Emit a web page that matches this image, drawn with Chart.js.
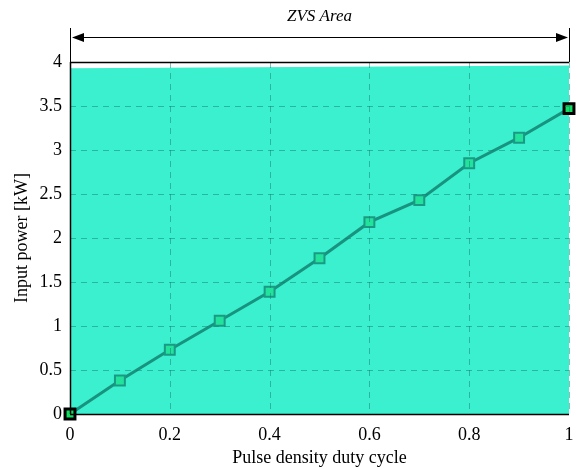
<!DOCTYPE html>
<html>
<head>
<meta charset="utf-8">
<script src="https://cdn.jsdelivr.net/npm/chart.js@4/dist/chart.umd.min.js"></script>
<style>
  html, body { margin: 0; padding: 0; background: #fff; }
  #wrap { width: 579px; height: 469px; }
</style>
</head>
<body>
<div id="wrap"><canvas id="powerChart" width="579" height="469"></canvas></div>
<script>
// duty cycle vs measured input power
const dutyCycle = [0, 0.1, 0.2, 0.3, 0.4, 0.5, 0.6, 0.7, 0.8, 0.9, 1.0];
const inputPower = [0, 0.38, 0.73, 1.06, 1.39, 1.77, 2.18, 2.43, 2.85, 3.14, 3.47];
// upper edge of the shaded ZVS region
const zvsDuty = [0, 1];
const zvsPower = [3.93, 3.96];
const zvsLabel = 'ZVS Area';

const serif = '"Liberation Serif", "Times New Roman", serif';

// dashed grid drawn over the shaded region
const overGrid = {
    id: 'overGrid',
    afterDatasetsDraw(chart) {
        const ctx = chart.ctx;
        const a = chart.chartArea;
        ctx.save();
        ctx.strokeStyle = 'rgba(20, 125, 110, 0.5)';
        ctx.lineWidth = 1;
        ctx.setLineDash([6, 5]);
        chart.scales.x.ticks.forEach(t => {
            const px = Math.round(chart.scales.x.getPixelForValue(t.value)) + 0.5;
            ctx.beginPath(); ctx.moveTo(px, a.top); ctx.lineTo(px, a.bottom); ctx.stroke();
        });
        chart.scales.y.ticks.forEach(t => {
            const py = Math.round(chart.scales.y.getPixelForValue(t.value)) + 0.5;
            ctx.beginPath(); ctx.moveTo(a.left, py); ctx.lineTo(a.right, py); ctx.stroke();
        });
        ctx.restore();
    }
};

// arrow spanning the ZVS region above the plot, plus the plot box
const zvsArrow = {
    id: 'zvsArrow',
    afterDraw(chart) {
        const ctx = chart.ctx;
        const xs = chart.scales.x;
        const x0 = xs.getPixelForValue(zvsDuty[0]);
        const x1 = xs.getPixelForValue(zvsDuty[1]);
        const a = chart.chartArea;
        const ya = 37;
        ctx.save();
        ctx.strokeStyle = '#000';
        ctx.fillStyle = '#000';
        ctx.lineWidth = 1;
        ctx.beginPath();
        ctx.moveTo(x0 + 0.5, a.top); ctx.lineTo(x0 + 0.5, 28);
        ctx.moveTo(x1 + 0.5, a.top); ctx.lineTo(x1 + 0.5, 28);
        ctx.moveTo(x0 + 8, ya + 0.5); ctx.lineTo(x1 - 8, ya + 0.5);
        ctx.stroke();
        ctx.beginPath();
        ctx.moveTo(x0 + 2, ya + 0.5); ctx.lineTo(x0 + 14, ya - 4); ctx.lineTo(x0 + 14, ya + 5); ctx.closePath();
        ctx.fill();
        ctx.beginPath();
        ctx.moveTo(x1 - 1, ya + 0.5); ctx.lineTo(x1 - 13, ya - 4); ctx.lineTo(x1 - 13, ya + 5); ctx.closePath();
        ctx.fill();
        ctx.font = 'italic 17px ' + serif;
        ctx.textAlign = 'center';
        ctx.textBaseline = 'middle';
        ctx.fillText(zvsLabel, (x0 + x1) / 2, 17);
        ctx.lineWidth = 1.5;
        ctx.beginPath();
        ctx.moveTo(a.left, a.top + 0.5); ctx.lineTo(a.right, a.top + 0.5);
        ctx.moveTo(a.left + 0.5, a.top); ctx.lineTo(a.left + 0.5, a.bottom);
        ctx.moveTo(a.left, a.bottom + 0.5); ctx.lineTo(a.right, a.bottom + 0.5);
        ctx.stroke();
        ctx.restore();
    }
};

const endIdx = i => i === 0 || i === dutyCycle.length - 1;

new Chart(document.getElementById('powerChart').getContext('2d'), {
    type: 'line',
    data: {
        datasets: [
            {
                label: 'Input power',
                data: dutyCycle.map((d, i) => ({ x: d, y: inputPower[i] })),
                borderColor: '#18937f',
                borderWidth: 3,
                pointStyle: 'rect',
                pointRadius: 7,
                pointBackgroundColor: dutyCycle.map((d, i) => endIdx(i) ? '#10e060' : '#22e39c'),
                pointBorderColor: dutyCycle.map((d, i) => endIdx(i) ? '#000' : '#1a9a85'),
                pointBorderWidth: dutyCycle.map((d, i) => endIdx(i) ? 3 : 2),
                clip: false,
                order: 1
            },
            {
                label: zvsLabel,
                data: zvsDuty.map((d, i) => ({ x: d, y: zvsPower[i] })),
                borderWidth: 0,
                pointRadius: 0,
                backgroundColor: 'rgb(58, 240, 207)',
                fill: 'origin',
                order: 2
            }
        ]
    },
    options: {
        responsive: false,
        animation: false,
        layout: { padding: { top: 62, right: 8, left: 0, bottom: 0 } },
        plugins: {
            legend: { display: false },
            tooltip: { enabled: false }
        },
        scales: {
            x: {
                type: 'linear',
                min: 0,
                max: 1,
                afterFit(axis) { axis.height = 55; },
                ticks: {
                    stepSize: 0.2,
                    color: '#000',
                    font: { family: serif, size: 18 },
                    padding: 2,
                    maxRotation: 0,
                    callback: v => String(Math.round(v * 10) / 10)
                },
                grid: { display: false },
                border: { display: false },
                title: {
                    display: true,
                    text: 'Pulse density duty cycle',
                    color: '#000',
                    font: { family: serif, size: 18 },
                    padding: { top: 0, bottom: 0 }
                }
            },
            y: {
                min: 0,
                max: 4,
                afterFit(axis) { axis.width = 70; },
                ticks: {
                    stepSize: 0.5,
                    color: '#000',
                    font: { family: serif, size: 18 },
                    padding: 0,
                    callback: v => String(v)
                },
                grid: { display: false },
                border: { display: false },
                title: {
                    display: true,
                    text: 'Input power [kW]',
                    color: '#000',
                    font: { family: serif, size: 18 },
                    padding: { top: 11, bottom: 0 }
                }
            }
        }
    },
    plugins: [overGrid, zvsArrow]
});
</script>
</body>
</html>
